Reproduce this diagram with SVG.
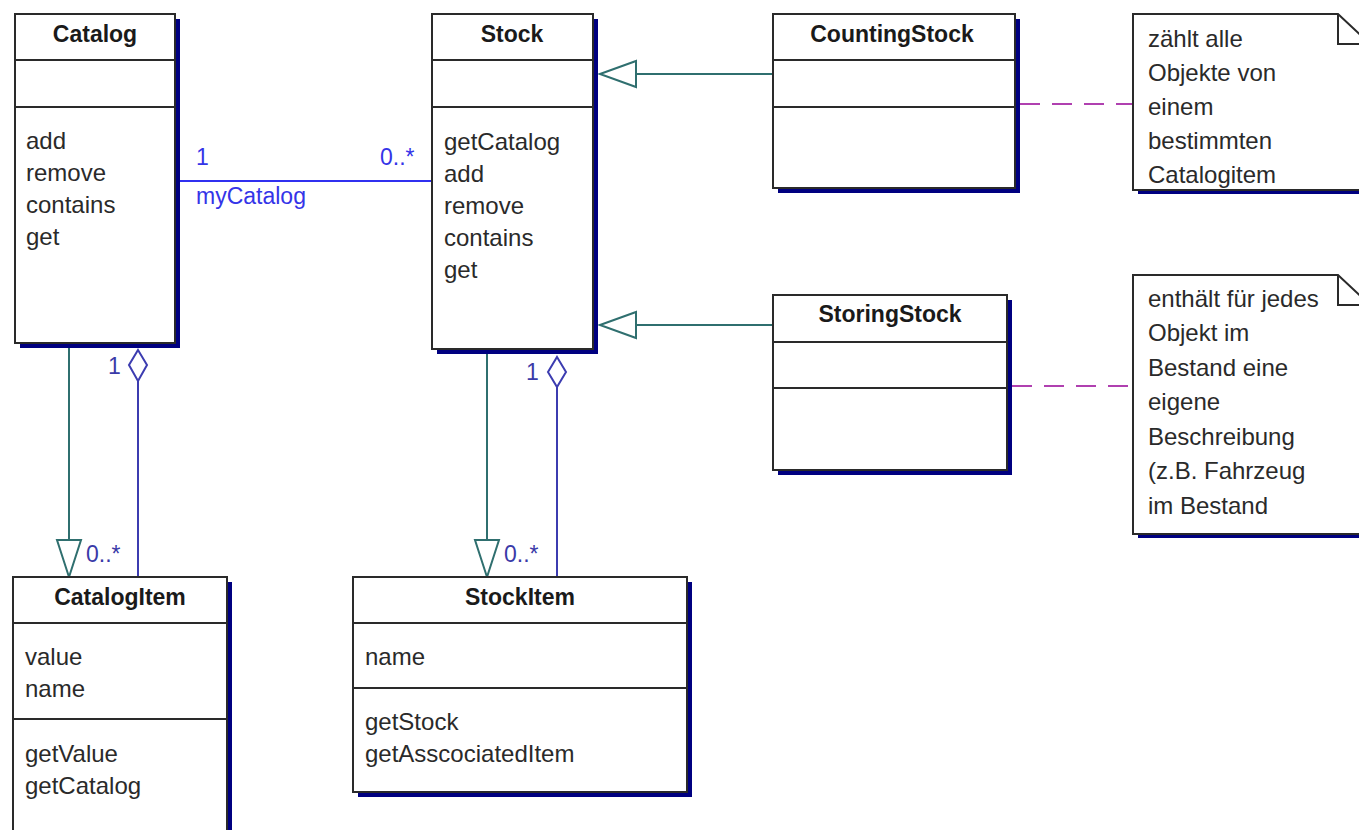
<svg xmlns="http://www.w3.org/2000/svg" width="1359" height="830" viewBox="0 0 1359 830">
<style>
.box{fill:#fff;stroke:#2a2a2a;stroke-width:2}
.shd{fill:#000080}
.sep{stroke:#2a2a2a;stroke-width:2}
.t{font-family:"Liberation Sans",Arial,sans-serif;font-size:23px;font-weight:bold;fill:#1a1a1a;text-anchor:middle}
.m{font-family:"Liberation Sans",Arial,sans-serif;font-size:24px;fill:#2a2a2a}
.gen{stroke:#2f6f6f;stroke-width:2;fill:none}
.tri{stroke:#2f6f6f;stroke-width:2;fill:#fff}
.agg{stroke:#3c3cb0;stroke-width:2;fill:none}
.dia{stroke:#3c3cb0;stroke-width:2;fill:#fff}
.asc{stroke:#3030f0;stroke-width:2;fill:none}
.lb{font-family:"Liberation Sans",Arial,sans-serif;font-size:23px;fill:#3434e8}
.lb2{font-family:"Liberation Sans",Arial,sans-serif;font-size:23px;fill:#3a3aa8}
.dash{stroke:#b040b0;stroke-width:2;stroke-dasharray:20 12;fill:none}
</style>
<rect width="1359" height="830" fill="#fff"/>
<g id="connectors">
<line class="asc" x1="180" y1="181" x2="432" y2="181"/>
<text class="lb" x="196" y="165">1</text>
<text class="lb" x="380" y="165">0..*</text>
<text class="lb" x="196" y="204">myCatalog</text>
<line class="gen" x1="636" y1="74" x2="773" y2="74"/>
<polygon class="tri" points="600,74 636,61 636,87"/>
<line class="gen" x1="636" y1="325" x2="773" y2="325"/>
<polygon class="tri" points="600,325 636,312 636,338"/>
<line class="gen" x1="69" y1="348" x2="69" y2="540"/>
<polygon class="tri" points="69,577 57,540 81,540"/>
<text class="lb2" x="86" y="562">0..*</text>
<line class="agg" x1="138" y1="381" x2="138" y2="577"/>
<polygon class="dia" points="138,350 147,365 138,381 129,365"/>
<text class="lb2" x="108" y="374">1</text>
<line class="gen" x1="487" y1="354" x2="487" y2="540"/>
<polygon class="tri" points="487,577 475,540 499,540"/>
<text class="lb2" x="504" y="562">0..*</text>
<line class="agg" x1="557" y1="387" x2="557" y2="577"/>
<polygon class="dia" points="557,357 566,372 557,387 548,372"/>
<text class="lb2" x="526" y="380">1</text>
<line class="dash" x1="1020" y1="104" x2="1133" y2="104"/>
<line class="dash" x1="1012" y1="386" x2="1133" y2="386"/>
</g>
<g id="Catalog">
<rect class="shd" x="20" y="19" width="160" height="329"/>
<rect class="box" x="15" y="14" width="160" height="329"/>
<line class="sep" x1="15" y1="60" x2="175" y2="60"/>
<line class="sep" x1="15" y1="107" x2="175" y2="107"/>
<text class="t" x="95" y="42">Catalog</text>
<text class="m" x="26" y="149">add</text>
<text class="m" x="26" y="181">remove</text>
<text class="m" x="26" y="213">contains</text>
<text class="m" x="26" y="245">get</text>
</g>
<g id="Stock">
<rect class="shd" x="437" y="19" width="161" height="335"/>
<rect class="box" x="432" y="14" width="161" height="335"/>
<line class="sep" x1="432" y1="60" x2="593" y2="60"/>
<line class="sep" x1="432" y1="107" x2="593" y2="107"/>
<text class="t" x="512" y="42">Stock</text>
<text class="m" x="444" y="150">getCatalog</text>
<text class="m" x="444" y="182">add</text>
<text class="m" x="444" y="214">remove</text>
<text class="m" x="444" y="246">contains</text>
<text class="m" x="444" y="278">get</text>
</g>
<g id="CountingStock">
<rect class="shd" x="778" y="19" width="242" height="174"/>
<rect class="box" x="773" y="14" width="242" height="174"/>
<line class="sep" x1="773" y1="60" x2="1015" y2="60"/>
<line class="sep" x1="773" y1="107" x2="1015" y2="107"/>
<text class="t" x="892" y="42">CountingStock</text>
</g>
<g id="StoringStock">
<rect class="shd" x="778" y="300" width="234" height="175"/>
<rect class="box" x="773" y="295" width="234" height="175"/>
<line class="sep" x1="773" y1="342" x2="1007" y2="342"/>
<line class="sep" x1="773" y1="388" x2="1007" y2="388"/>
<text class="t" x="890" y="322">StoringStock</text>
</g>
<g id="CatalogItem">
<rect class="shd" x="18" y="582" width="214" height="270"/>
<rect class="box" x="13" y="577" width="214" height="270"/>
<line class="sep" x1="13" y1="623" x2="227" y2="623"/>
<line class="sep" x1="13" y1="719" x2="227" y2="719"/>
<text class="t" x="120" y="605">CatalogItem</text>
<text class="m" x="25" y="665">value</text>
<text class="m" x="25" y="697">name</text>
<text class="m" x="25" y="762">getValue</text>
<text class="m" x="25" y="794">getCatalog</text>
</g>
<g id="StockItem">
<rect class="shd" x="358" y="582" width="334" height="215"/>
<rect class="box" x="353" y="577" width="334" height="215"/>
<line class="sep" x1="353" y1="623" x2="687" y2="623"/>
<line class="sep" x1="353" y1="688" x2="687" y2="688"/>
<text class="t" x="520" y="605">StockItem</text>
<text class="m" x="365" y="665">name</text>
<text class="m" x="365" y="730">getStock</text>
<text class="m" x="365" y="762">getAsscociatedItem</text>
</g>
<g id="Note1">
<rect class="shd" x="1138" y="189" width="240" height="5"/>
<path class="box" d="M1133,14 H1338 L1370,44 V190 H1133 Z"/>
<path class="sep" fill="none" d="M1338,14 V44 H1370"/>
<text class="m" x="1148" y="47">zählt alle</text>
<text class="m" x="1148" y="81">Objekte von</text>
<text class="m" x="1148" y="115">einem</text>
<text class="m" x="1148" y="149">bestimmten</text>
<text class="m" x="1148" y="183">Catalogitem</text>
</g>
<g id="Note2">
<rect class="shd" x="1138" y="533" width="240" height="5"/>
<path class="box" d="M1133,275 H1338 L1370,305 V534 H1133 Z"/>
<path class="sep" fill="none" d="M1338,275 V305 H1370"/>
<text class="m" x="1148" y="307">enthält für jedes</text>
<text class="m" x="1148" y="341">Objekt im</text>
<text class="m" x="1148" y="376">Bestand eine</text>
<text class="m" x="1148" y="410">eigene</text>
<text class="m" x="1148" y="445">Beschreibung</text>
<text class="m" x="1148" y="479">(z.B. Fahrzeug</text>
<text class="m" x="1148" y="514">im Bestand</text>
</g>
</svg>
